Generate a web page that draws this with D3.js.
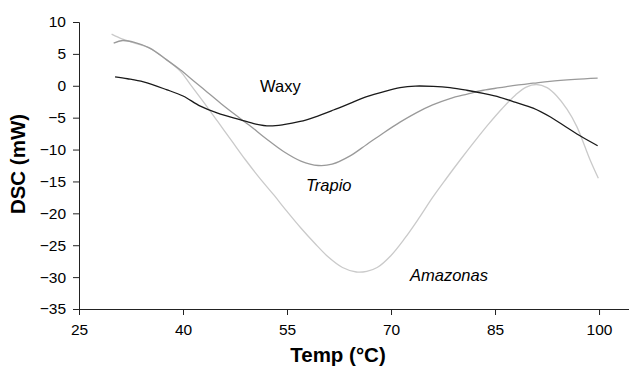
<!DOCTYPE html>
<html>
<head>
<meta charset="utf-8">
<script src="https://cdn.jsdelivr.net/npm/d3@7"></script>
<style>
html,body{margin:0;padding:0;background:#fff;}
svg{display:block;font-family:"Liberation Sans",Arial,sans-serif;}
</style>
</head>
<body>
<svg id="chart" width="629" height="369"></svg>
<script>
const xTicks = [25, 40, 55, 70, 85, 100];
const yTicks = [10, 5, 0, -5, -10, -15, -20, -25, -30, -35];

const waxyT = [30.2,32,34.3,37.6,40,42.5,45,48.2,50.5,52.5,54.5,56.9,59,61.7,64,66.5,69,71.3,73.5,76.1,78.5,80.9,83.3,85.7,88,90.5,93,95.3,97.5,99.8];
const waxyV = [1.4,1.1,0.6,-0.6,-1.6,-3.2,-4.3,-5.3,-6.0,-6.3,-6.1,-5.6,-4.9,-3.8,-2.8,-1.7,-0.9,-0.3,-0.05,-0.1,-0.3,-0.7,-1.2,-1.8,-2.6,-3.5,-4.9,-6.5,-8.0,-9.4];

const trapioT = [30.0,31.3,33.0,35.2,37.6,39.6,41.5,43.5,45.5,47.5,49.7,52,54.5,57,59.5,61.5,64.1,66.5,68.9,71.3,73.7,76,78.5,81,83.3,85.7,88.1,90.5,92.9,96.5,99.8];
const trapioV = [6.7,7.1,6.8,5.9,4.1,2.5,0.8,-1.0,-2.8,-4.5,-6.3,-8.3,-10.3,-11.8,-12.5,-12.3,-11.0,-9.2,-7.4,-5.7,-4.2,-3.0,-2.0,-1.3,-0.7,-0.3,0.1,0.4,0.7,1.0,1.2];

const amazT = [29.7,31.3,33,35.2,37.6,39.6,41,43,45,47,49,51,53,55,57,59,61,63,65,66.5,68,70,72,74,76,78,80,82,84,86,88,89.5,91,92.5,93.9,95.4,96.8,98.7,99.9];
const amazV = [8.1,7.3,6.7,5.9,4.1,2.3,0.3,-2.6,-5.6,-8.6,-11.6,-14.4,-17.0,-19.7,-22.3,-24.7,-26.9,-28.5,-29.2,-29.1,-28.5,-26.6,-23.9,-20.8,-17.5,-14.5,-11.6,-8.8,-6.1,-3.6,-1.4,-0.2,0.2,-0.3,-1.6,-3.7,-6.4,-11.6,-14.5];

const seriesNames = ["Waxy", "Trapio", "Amazonas"];

const svg = d3.select("#chart");
const x = d3.scaleLinear().domain([25, 105]).range([79, 633.7]);
const y = d3.scaleLinear().domain([-35, 10]).range([309, 22]);

const series = [
  {name: seriesNames[0], T: waxyT, V: waxyV, color: "#1a1a1a"},
  {name: seriesNames[1], T: trapioT, V: trapioV, color: "#9a9a9a"},
  {name: seriesNames[2], T: amazT, V: amazV, color: "#cacaca"}
];

const line = d3.line().x(d => x(d[0])).y(d => y(d[1])).curve(d3.curveCatmullRom.alpha(0.5));

[series[2], series[1], series[0]].forEach(s => {
  svg.append("path")
    .datum(s.T.map((t, i) => [t, s.V[i]]))
    .attr("fill", "none")
    .attr("stroke", s.color)
    .attr("stroke-width", 1.3)
    .attr("d", line);
});

const xAxis = svg.append("g").attr("transform", `translate(0,${y(-35)})`)
  .call(d3.axisBottom(x).tickValues(xTicks).tickSize(6).tickPadding(7));
const yAxis = svg.append("g").attr("transform", `translate(${x(25)},0)`)
  .call(d3.axisLeft(y).tickValues(yTicks).tickSize(6).tickPadding(7));

[xAxis, yAxis].forEach(g => {
  g.selectAll("path").attr("stroke", "#222").attr("stroke-width", 1);
  g.selectAll("line").attr("stroke", "#222").attr("stroke-width", 1);
  g.selectAll("text").attr("fill", "#000").style("font-size", "15.5px")
    .style("font-family", '"Liberation Sans", Arial, sans-serif');
});
xAxis.selectAll("text").attr("dy", "0.85em");

svg.append("text").attr("x", 260).attr("y", 92).text(seriesNames[0])
  .style("font-size", "16.5px");
svg.append("text").attr("x", 306).attr("y", 190.5).text(seriesNames[1])
  .style("font-size", "16.5px").style("font-style", "italic");
svg.append("text").attr("x", 410).attr("y", 280.5).text(seriesNames[2])
  .style("font-size", "16.5px").style("font-style", "italic");

svg.append("text").attr("x", 338).attr("y", 362).attr("text-anchor", "middle")
  .style("font-size", "20.5px").style("font-weight", "bold").text("Temp (°C)");
svg.append("text").attr("transform", "translate(25,164) rotate(-90)")
  .attr("text-anchor", "middle")
  .style("font-size", "20.5px").style("font-weight", "bold").text("DSC (mW)");
</script>
</body>
</html>
